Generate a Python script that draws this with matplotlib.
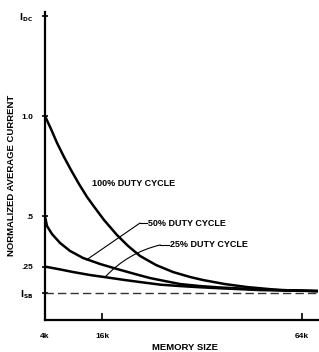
import numpy as np
import matplotlib
matplotlib.use('Agg')
import matplotlib.pyplot as plt

plt.rcParams['font.family'] = ['Liberation Sans', 'DejaVu Sans']
plt.rcParams['font.weight'] = 'bold'

# ===== DATA (memory size in k bits, normalized current) =====
duty_100_x = [4.0, 5.17, 6.37, 7.79, 9.24, 10.93, 12.64, 14.38, 16.36, 19.26,
              21.75, 24.5, 28.2, 32.2, 36.3, 39.4, 44.7, 50.2, 58.4, 68.0]
duty_100_y = [1.0, 0.935, 0.866, 0.796, 0.731, 0.661, 0.597, 0.542, 0.482, 0.407,
              0.353, 0.303, 0.258, 0.223, 0.198, 0.183, 0.163, 0.148, 0.133, 0.128]

duty_50_x = [4.0, 4.39, 5.37, 6.97, 9.03, 11.78, 15.48, 19.26, 23.35, 26.8,
             30.3, 33.9, 38.7, 43.5, 53.4, 68.0]
duty_50_y = [0.5, 0.452, 0.412, 0.368, 0.328, 0.293, 0.263, 0.238, 0.213, 0.193,
             0.178, 0.163, 0.153, 0.146, 0.136, 0.128]

duty_25_x = [4.0, 6.97, 9.66, 13.29, 17.03, 21.07, 24.5, 29.2, 33.9, 38.7,
             43.5, 53.4, 68.0]
duty_25_y = [0.25, 0.236, 0.223, 0.208, 0.196, 0.183, 0.173, 0.16, 0.153, 0.147,
             0.142, 0.133, 0.128]

I_SB = 0.12
I_DC = 1.5

x_ticks = [4, 16, 64]
x_ticklabels = ['4k', '16k', '64k']
y_ticks = [I_SB, 0.25, 0.5, 1.0, I_DC]
y_ticklabels = [r'$\mathbf{I_{SB}}$', '.25', '.5', '1.0', r'$\mathbf{I_{DC}}$']
# =============================================================

P = 0.9  # mild power scale on the memory axis, as in the original drawing

def fwd(x):
    return np.sign(x) * np.abs(x) ** P

def inv(x):
    return np.sign(x) * np.abs(x) ** (1 / P)

fig = plt.figure(figsize=(3.19, 3.52), dpi=100)
ax = fig.add_axes([45 / 319, 1 - 320 / 352, (318 - 45) / 319, (320 - 12) / 352])
ax.set_xscale('function', functions=(fwd, inv))

for xs, ys in [(duty_100_x, duty_100_y), (duty_50_x, duty_50_y), (duty_25_x, duty_25_y)]:
    ax.plot(xs, ys, color='black', lw=1.8, solid_joinstyle='round')
ax.plot([4, 68], [I_SB, I_SB], color='#333333', lw=1.0, dashes=(6, 3))

ax.set_xlim(4, 68)
ax.set_ylim(-0.016, 1.518)

for s in ['top', 'right']:
    ax.spines[s].set_visible(False)
for s in ['left', 'bottom']:
    ax.spines[s].set_linewidth(1.6)

ax.set_xticks(x_ticks)
ax.set_xticklabels(x_ticklabels)
ax.set_yticks(y_ticks)
ax.set_yticklabels(y_ticklabels)
ax.tick_params(axis='x', direction='in', length=5, width=1.2, pad=9, labelsize=6)
ax.tick_params(axis='y', direction='inout', length=5, width=1.2, pad=6, labelsize=6)
ax.minorticks_off()

lbl = dict(fontsize=6.5, fontweight='bold', va='center', ha='left')
ax.text(13.7, 0.666, '100% DUTY CYCLE', **lbl)
ax.text(26.3, 0.467, '50% DUTY CYCLE', **lbl)
ax.text(31.5, 0.358, '25% DUTY CYCLE', **lbl)

# leader lines
ax.plot([24.5, 26.1], [0.467, 0.467], color='black', lw=0.8)
ax.annotate('', xy=(12.5, 0.283), xytext=(24.5, 0.467),
            arrowprops=dict(arrowstyle='-', lw=0.8, color='black',
                            shrinkA=0, shrinkB=0))
ax.plot([29.2, 31.2], [0.358, 0.358], color='black', lw=0.8)
ax.annotate('', xy=(16.6, 0.198), xytext=(29.2, 0.358),
            arrowprops=dict(arrowstyle='-', lw=0.8, color='black',
                            shrinkA=0, shrinkB=0,
                            connectionstyle='arc3,rad=0.15'))

fig.text(12 / 319, 1 - 175 / 352, 'NORMALIZED AVERAGE CURRENT', rotation=90,
         fontsize=6.8, fontweight='bold', ha='center', va='center')
fig.text(185 / 319, 1 - 348 / 352, 'MEMORY SIZE',
         fontsize=6.8, fontweight='bold', ha='center', va='center')

fig.savefig('out.png', dpi=100)
